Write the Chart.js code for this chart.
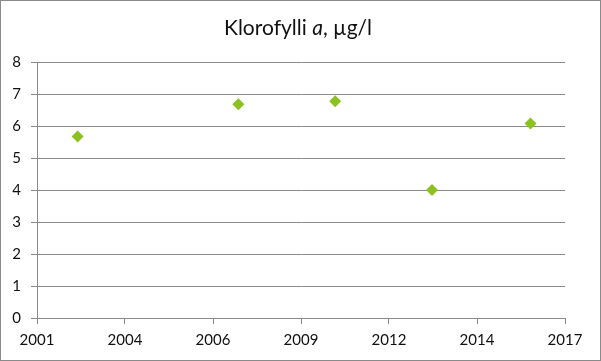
<!DOCTYPE html>
<html>
<head>
<meta charset="utf-8">
<script src="https://cdn.jsdelivr.net/npm/chart.js@4"></script>
<style>
    html, body { margin: 0; padding: 0; background: #fff; }
    #wrap { width: 601px; height: 361px; position: relative; }
</style>
</head>
<body>
<div id="wrap"><canvas id="chart" width="601" height="361"></canvas></div>
<script>
// Sampling dates (fractional years) and chlorophyll a values
const sampleYears = [2002.9, 2007.65, 2010.51, 2013.37, 2016.28];
const chlorophyll = [5.67, 6.68, 6.77, 4.0, 6.08];

// X axis tick positions and the labels shown under them
const xTickValues = [2001.7, 2004.3, 2006.9, 2009.5, 2012.1, 2014.7, 2017.3];
const xTickLabels = ['2001', '2004', '2006', '2009', '2012', '2014', '2017'];
const yTickValues = [0, 1, 2, 3, 4, 5, 6, 7, 8];

const FONT = 'Lato, "Open Sans", sans-serif';
const gridColor = '#8a8a8a';

// Title with an italic "a", drawn by hand
const titlePlugin = {
    id: 'mixedTitle',
    afterDraw(chart) {
        const ctx = chart.ctx;
        const parts = [
            { text: 'Klorofylli ', style: '' },
            { text: 'a', style: 'italic ' },
            { text: ', µg/l', style: '' }
        ];
        ctx.save();
        ctx.fillStyle = '#111';
        ctx.textBaseline = 'alphabetic';
        let total = 0;
        parts.forEach(p => {
            ctx.font = p.style + '21px ' + FONT;
            p.w = ctx.measureText(p.text).width;
            total += p.w;
        });
        let x = 298 - total / 2;
        parts.forEach(p => {
            ctx.font = p.style + '21px ' + FONT;
            ctx.fillText(p.text, x, 35);
            x += p.w;
        });
        ctx.restore();
    }
};

const borderPlugin = {
    id: 'outerBorder',
    beforeDraw(chart) {
        const ctx = chart.ctx;
        ctx.save();
        ctx.fillStyle = '#fff';
        ctx.fillRect(0, 0, chart.width, chart.height);
        ctx.strokeStyle = gridColor;
        ctx.lineWidth = 1;
        ctx.strokeRect(0.5, 0.5, chart.width - 1, chart.height - 1);
        ctx.restore();
    }
};

new Chart(document.getElementById('chart'), {
    type: 'scatter',
    data: {
        datasets: [{
            label: 'Klorofylli a',
            data: sampleYears.map((y, i) => ({ x: y, y: chlorophyll[i] })),
            pointStyle: 'rectRot',
            pointRadius: 6,
            pointHoverRadius: 6,
            backgroundColor: '#8cc21f',
            borderColor: '#8cc21f',
            borderWidth: 0
        }]
    },
    options: {
        responsive: false,
        animation: false,
        layout: { padding: { top: 62, right: 36, left: 0, bottom: 0 } },
        plugins: {
            legend: { display: false },
            title: { display: false },
            tooltip: { enabled: false }
        },
        scales: {
            x: {
                type: 'linear',
                min: xTickValues[0],
                max: xTickValues[xTickValues.length - 1],
                afterBuildTicks: scale => {
                    scale.ticks = xTickValues.map(v => ({ value: v }));
                },
                afterFit: scale => { scale.height = 43; },
                grid: {
                    drawOnChartArea: false,
                    drawTicks: true,
                    tickLength: 6,
                    color: gridColor
                },
                border: { color: gridColor },
                ticks: {
                    autoSkip: false,
                    maxRotation: 0,
                    padding: 7,
                    color: '#111',
                    font: { family: FONT, size: 15 },
                    callback: (v, i) => xTickLabels[i]
                }
            },
            y: {
                min: 0,
                max: 8,
                afterBuildTicks: scale => {
                    scale.ticks = yTickValues.map(v => ({ value: v }));
                },
                afterFit: scale => { scale.width = 37; },
                grid: {
                    drawTicks: true,
                    tickLength: 6,
                    color: gridColor
                },
                border: { color: gridColor },
                ticks: {
                    padding: 10,
                    color: '#111',
                    font: { family: FONT, size: 15 }
                }
            }
        }
    },
    plugins: [borderPlugin, titlePlugin]
});
</script>
</body>
</html>
